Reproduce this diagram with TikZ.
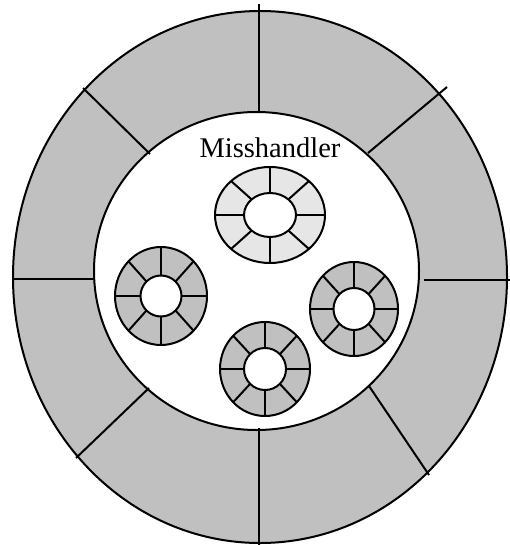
\documentclass[tikz,border=0pt]{standalone}
\usepackage{fontspec}
\setmainfont{Liberation Serif}
\usetikzlibrary{positioning}

\definecolor{ringgray}{RGB}{192,192,192}
\definecolor{lightwheel}{RGB}{230,230,230}

% small wheel: centre x, centre y, rim radii, hole radii, fill
\newcommand{\smallwheel}[7]{%
  \begin{scope}[shift={(#1,#2)}]
    \filldraw[fill=#7] (0,0) ellipse [x radius=#3, y radius=#4];
    \foreach \a in {0,45,...,315}
      \draw (\a:#5 and #6) -- (\a:#3 and #4);
    \filldraw[fill=white] (0,0) ellipse [x radius=#5, y radius=#6];
  \end{scope}}

\begin{document}
\begin{tikzpicture}[x=1pt,y=-1pt,line width=2pt]
        \useasboundingbox (0,0) rectangle (509,545);
        \filldraw[fill=ringgray] (260,277) ellipse [x radius=247, y radius=266];
        \filldraw[fill=white] (256.5,271) ellipse [x radius=162.5, y radius=159];
        \coordinate (in1) at (259,112);   \coordinate (out1) at (259,4);
        \coordinate (in2) at (368,153);   \coordinate (out2) at (447,87);
        \coordinate (in3) at (424,280);   \coordinate (out3) at (510,280);
        \coordinate (in4) at (369,386);   \coordinate (out4) at (429,475);
        \coordinate (in5) at (259,428);   \coordinate (out5) at (259,545);
        \coordinate (in6) at (149,388);   \coordinate (out6) at (76,458);
        \coordinate (in7) at (94,279);    \coordinate (out7) at (12,279);
        \coordinate (in8) at (150,154);   \coordinate (out8) at (83,88);
        \draw (in1) -- (out1);
        \draw (in2) -- (out2);
        \draw (in3) -- (out3);
        \draw (in4) -- (out4);
        \draw (in5) -- (out5);
        \draw (in6) -- (out6);
        \draw (in7) -- (out7);
        \draw (in8) -- (out8);
        \node[anchor=base,font=\fontsize{28.5}{30}\selectfont,inner sep=0pt] (title) at (270,158) {Misshandler};
        \smallwheel{270}{215}{55}{48}{26}{22}{lightwheel}
        \smallwheel{161}{296}{46}{49}{20.5}{20.5}{ringgray}
        \smallwheel{354}{309}{44}{47}{20.5}{21}{ringgray}
        \smallwheel{265}{369}{45}{47}{21}{21}{ringgray}
    \end{tikzpicture}
\end{document}
